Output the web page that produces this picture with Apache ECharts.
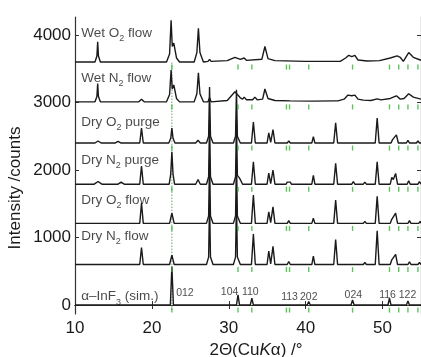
<!DOCTYPE html>
<html>
<head>
<meta charset="utf-8">
<script src="https://cdn.jsdelivr.net/npm/echarts@6/dist/echarts.min.js"></script>
<style>
html, body { margin: 0; padding: 0; background: #fff; }
#chart { width: 421px; height: 357px; }
</style>
</head>
<body>
<div id="chart"></div>
<script>
// vertical offset (counts) of each pattern, bottom to top
const offsets = [0, 600, 1210, 1790, 2400, 3010, 3600];
const traceNames = ["α–InF{s|3} (sim.)", "Dry N{s|2} flow", "Dry O{s|2} flow", "Dry N{s|2} purge", "Dry O{s|2} purge", "Wet N{s|2} flow", "Wet O{s|2} flow"];

// patterns: [2theta, counts above own baseline]
const simInF3 = [[10,0],[22.4,0],[22.6,570],[22.8,0],[31.0,0],[31.2,150],[31.4,0],[32.8,0],[33.0,100],[33.2,0],[37.35,0],[37.5,15],[37.65,0],[37.75,0],[37.9,20],[38.05,0],[40.2,0],[40.4,50],[40.6,0],[45.9,0],[46.1,75],[46.3,0],[50.7,0],[50.9,100],[51.1,0],[51.95,0],[52.1,20],[52.25,0],[53.1,0],[53.3,60],[53.5,0],[54.45,0],[54.6,20],[54.75,0],[55,0]];
const dryN2Flow = [[10,0],[18.42,0],[18.65,250],[18.88,0],[22.3,0],[22.6,140],[22.9,0],[27.1,0],[27.38,110],[27.5,950],[27.62,110],[27.95,0],[30.6,0],[30.88,110],[31.0,950],[31.12,110],[31.5,0],[32.95,0],[33.2,450],[33.45,0],[34.98,0],[35.2,200],[35.45,10],[35.52,10],[35.75,270],[36.0,0],[37.6,0],[37.8,45],[38.0,0],[40.8,0],[41.0,125],[41.2,0],[43.65,0],[43.9,370],[44.15,0],[45.9,0],[46.1,25],[46.3,0],[47.5,0],[47.7,30],[47.9,0],[49.05,0],[49.3,500],[49.55,0],[51.0,0],[51.2,70],[51.4,50],[51.7,150],[51.95,0],[53.3,0],[53.5,40],[53.7,0],[54.6,0],[54.8,30],[55,0]];
const dryO2Flow = [[10,0],[18.42,0],[18.65,300],[18.88,0],[22.3,0],[22.6,150],[22.9,0],[27.1,0],[27.38,110],[27.5,950],[27.62,110],[27.95,0],[30.6,0],[30.88,110],[31.0,950],[31.12,110],[31.5,0],[32.95,0],[33.2,420],[33.45,0],[34.98,0],[35.2,170],[35.45,10],[35.52,10],[35.75,245],[36.0,0],[37.6,0],[37.8,40],[38.0,0],[40.8,0],[41.0,75],[41.2,0],[43.65,0],[43.9,345],[44.15,0],[46.0,0],[46.2,20],[46.4,0],[47.5,0],[47.7,30],[47.9,0],[49.05,0],[49.3,400],[49.55,0],[51.0,0],[51.2,60],[51.4,50],[51.7,150],[51.95,0],[53.3,0],[53.5,40],[53.7,0],[54.7,0],[54.9,30],[55,0]];
const dryN2Purge = [[10,0],[12.5,0],[13.0,40],[13.5,0],[15.6,0],[16.0,30],[16.4,0],[18.42,0],[18.65,270],[18.88,0],[22.25,0],[22.45,150],[22.6,480],[22.75,150],[22.95,0],[25.7,0],[26.0,70],[26.3,0],[27.1,0],[27.38,110],[27.5,950],[27.62,110],[27.95,0],[30.6,0],[30.88,110],[31.0,950],[31.12,130],[31.4,90],[31.8,0],[32.95,0],[33.2,330],[33.45,0],[34.98,0],[35.2,165],[35.45,10],[35.52,10],[35.75,210],[36.0,0],[37.45,0],[37.6,30],[37.8,5],[38.0,30],[38.15,0],[40.8,0],[41.0,130],[41.2,0],[43.65,0],[43.9,310],[44.15,0],[46.0,0],[46.2,40],[46.4,0],[47.5,0],[47.7,30],[47.9,0],[49.05,0],[49.3,330],[49.55,0],[51.0,0],[51.2,100],[51.4,70],[51.7,160],[51.95,0],[53.2,0],[53.4,50],[53.6,0],[54.6,0],[54.8,40],[55,0]];
const dryO2Purge = [[10,0],[12.6,0],[13.0,30],[13.4,0],[15.2,0],[15.6,25],[16.0,0],[18.42,0],[18.65,220],[18.88,0],[22.2,0],[22.45,70],[22.6,220],[22.75,70],[23.0,0],[25.7,0],[26.0,40],[26.3,0],[27.1,0],[27.38,100],[27.5,830],[27.62,100],[27.95,0],[30.6,0],[30.88,100],[31.0,790],[31.12,100],[31.5,0],[32.95,0],[33.2,310],[33.45,0],[34.98,0],[35.2,150],[35.45,10],[35.52,10],[35.75,200],[36.0,0],[37.6,0],[37.8,30],[38.0,0],[40.8,0],[41.0,95],[41.2,0],[43.65,0],[43.9,300],[44.15,0],[46.0,0],[46.2,25],[46.4,0],[49.05,0],[49.3,370],[49.55,0],[51.1,0],[51.3,50],[51.5,40],[51.8,120],[52.05,0],[53.1,0],[53.3,40],[53.5,0],[54.4,0],[54.6,30],[54.8,0],[55,0]];
const wetN2Flow = [[10,0],[12.6,0],[12.85,80],[12.95,270],[13.05,80],[13.3,0],[18.3,0],[18.65,40],[19.0,0],[21.9,0],[22.3,110],[22.5,470],[22.65,190],[22.85,250],[23.2,50],[23.6,0],[25.5,0],[25.85,120],[26.05,430],[26.25,120],[26.7,0],[27.3,0],[27.5,60],[27.7,0],[29.8,20],[30.8,150],[31.5,60],[31.8,40],[32.0,70],[32.3,30],[33.1,30],[33.4,70],[33.7,30],[34.4,40],[34.7,190],[35.1,50],[36.0,20],[38,15],[41,10],[43.8,15],[44.0,40],[44.2,15],[45.0,40],[45.5,100],[46.0,90],[46.4,100],[46.8,40],[47.5,25],[48.5,20],[49.3,45],[49.8,30],[51.0,50],[51.8,90],[52.3,40],[52.8,50],[53.4,120],[54.0,70],[55,40]];
const wetO2Flow = [[10,0],[12.6,0],[12.85,90],[12.95,300],[13.05,90],[13.3,0],[21.9,0],[22.3,120],[22.5,620],[22.65,230],[22.85,280],[23.2,60],[23.6,0],[25.5,0],[25.85,140],[26.05,500],[26.25,140],[26.7,0],[27.3,10],[27.5,40],[27.7,10],[29.8,20],[30.8,70],[31.5,40],[32.0,60],[32.3,25],[34.3,40],[34.7,230],[35.1,50],[36,20],[40,10],[44.5,10],[45.2,60],[45.6,100],[46.0,80],[46.4,100],[46.8,30],[48,15],[49.6,20],[51.0,60],[51.9,90],[52.3,70],[52.7,10],[53.4,140],[54.0,70],[54.9,30],[55,30]];
const patterns = [simInF3, dryN2Flow, dryO2Flow, dryN2Purge, dryO2Purge, wetN2Flow, wetO2Flow];

// alpha-InF3 reflection positions (green ticks)
const reflections = [22.6, 31.2, 33.0, 37.5, 37.9, 40.4, 46.1, 50.9, 52.1, 53.3, 54.6];
// hkl labels of the simulated pattern: [2theta, counts, text]
const hklLabels = [[24.3, 183, "012"], [30.1, 188, "104"], [32.8, 188, "110"], [37.9, 114, "113"], [40.4, 114, "202"], [46.2, 148, "024"], [50.65, 148, "116"], [53.25, 148, "122"]];
const xTicks = [10, 20, 30, 40, 50];
const yTicks = [0, 1000, 2000, 3000, 4000];

// layout constants
const labelX = 10.8;
const labelLift = [123, 422, 346, 358, 311, 353, 430];
const reflDrop = 75;

const FONT = "Liberation Sans, Arial, sans-serif";
const INK = "#1a1a1a";

const chart = echarts.init(document.getElementById("chart"));

const series = patterns.map((pts, i) => ({
    type: "line",
    data: pts.map((p) => [p[0], p[1] + offsets[i]]),
    symbol: "none",
    smooth: false,
    lineStyle: { color: INK, width: 1.4 },
    z: 3,
}));

series.push({
    type: "line",
    data: [[reflections[0], offsets[0] - reflDrop], [reflections[0], offsets[6]]],
    symbol: "none",
    lineStyle: { color: "#6f9f6f", width: 1, type: [1.5, 1.5] },
    z: 2,
});

series.push({
    type: "scatter",
    data: offsets.flatMap((off) => reflections.map((r) => [r, off - reflDrop])),
    symbol: "rect",
    symbolSize: [1.4, 5],
    itemStyle: { color: "#35b435" },
    z: 4,
});

series.push({
    type: "scatter",
    data: offsets.map((off, i) => [labelX, off + labelLift[i], traceNames[i]]),
    symbolSize: 0,
    label: {
        show: true,
        position: "right",
        distance: 0,
        formatter: (p) => p.data[2],
        color: INK,
        fontFamily: FONT,
        fontSize: 13.5,
        rich: {
            s: { fontSize: 9, fontFamily: FONT, color: INK, verticalAlign: "bottom", lineHeight: 9, padding: [0, 0, -3, 0] },
        },
    },
    z: 5,
});

series.push({
    type: "scatter",
    data: hklLabels,
    symbolSize: 0,
    label: {
        show: true,
        position: "inside",
        formatter: (p) => p.data[2],
        color: INK,
        fontFamily: FONT,
        fontSize: 10.5,
    },
    z: 5,
});

const frameLine = { show: true, lineStyle: { color: "#333", width: 1.2 } };
const tickOf = (vals) => ({ show: true, inside: true, length: 4, customValues: vals, lineStyle: { color: "#333" } });

chart.setOption({
    animation: false,
    grid: { left: 75, right: 0, top: 17, bottom: 43, outerBoundsMode: "none", containLabel: false },
    xAxis: [
        {
            type: "value", min: 10, max: 55, position: "bottom",
            axisLine: frameLine,
            axisTick: tickOf(xTicks),
            axisLabel: { fontSize: 17, color: INK, fontFamily: FONT, margin: 6, customValues: xTicks, formatter: (v) => String(v) },
            splitLine: { show: false },
        },
        {
            type: "value", min: 10, max: 55, position: "top",
            axisLine: frameLine,
            axisTick: tickOf(xTicks),
            axisLabel: { show: false },
            splitLine: { show: false },
        },
    ],
    yAxis: [
        {
            type: "value", min: -133, max: 4267, position: "left",
            axisLine: frameLine,
            axisTick: tickOf(yTicks),
            axisLabel: { fontSize: 17, color: INK, fontFamily: FONT, margin: 4, customValues: yTicks, formatter: (v) => String(v) },
            splitLine: { show: false },
        },
        {
            type: "value", min: -133, max: 4267, position: "right",
            axisLine: frameLine,
            axisTick: tickOf(yTicks),
            axisLabel: { show: false },
            splitLine: { show: false },
        },
    ],
    graphic: [
        {
            type: "text", x: 256, y: 350,
            style: {
                text: "2Θ(Cu{i|K}α) /°", fontSize: 17, fontFamily: FONT, fill: INK,
                align: "center", verticalAlign: "middle",
                rich: { i: { fontStyle: "italic", fontSize: 17, fontFamily: FONT, fill: INK } },
            },
        },
        {
            type: "text", x: 15, y: 188, rotation: Math.PI / 2,
            style: {
                text: "Intensity /counts", fontSize: 17, fontFamily: FONT, fill: INK,
                align: "center", verticalAlign: "middle",
            },
        },
    ],
    series: series,
});
</script>
</body>
</html>
